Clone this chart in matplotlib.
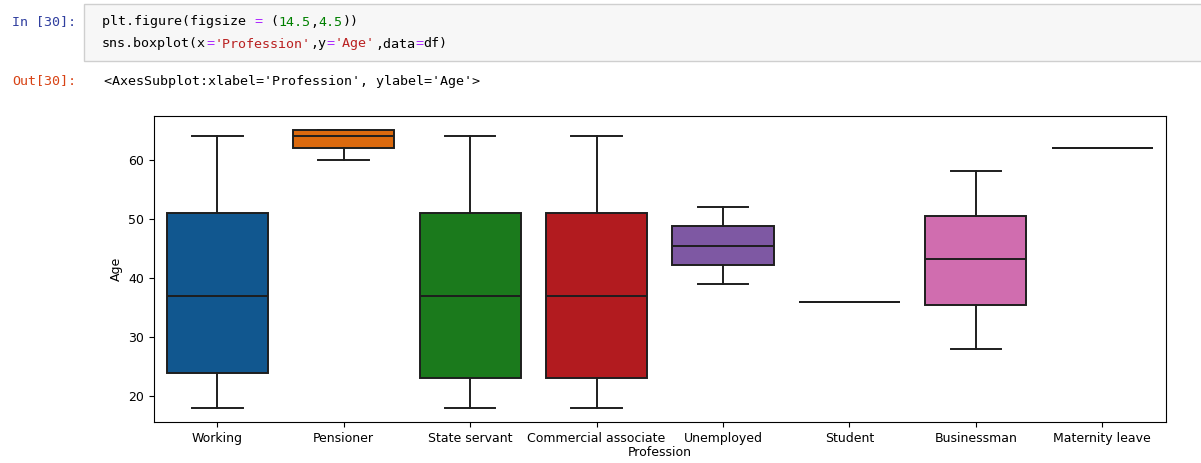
import numpy as np
import matplotlib.pyplot as plt
from matplotlib.patches import Rectangle

# box statistics
professions = ['Working', 'Pensioner', 'State servant', 'Commercial associate',
               'Unemployed', 'Student', 'Businessman', 'Maternity leave']
whislo = [18, 60, 18, 18, 39, 36, 28, 62]
q1 = [24, 62, 23, 23, 42.2, 36, 35.5, 62]
med = [37, 64, 37, 37, 45.4, 36, 43.2, 62]
q3 = [51, 65, 51, 51, 48.8, 36, 50.5, 62]
whishi = [64, 65, 64, 64, 52, 36, 58, 62]
box_colors = ['#11578f', '#dc6a0e', '#1b7a1c', '#b21b1f',
              '#7e58a3', '#8c613c', '#d06daf', '#797979']

# notebook cell text
in_prompt = 'In [30]:'
out_prompt = 'Out[30]:'
code_line1 = [('plt.figure(figsize ', 'k'), ('=', '#aa22ff'), (' (', 'k'),
              ('14.5', '#008000'), (',', 'k'), ('4.5', '#008000'), ('))', 'k')]
code_line2 = [('sns.boxplot(x', 'k'), ('=', '#aa22ff'), ("'Profession'", '#ba2121'),
              (',y', 'k'), ('=', '#aa22ff'), ("'Age'", '#ba2121'), (',data', 'k'),
              ('=', '#aa22ff'), ('df)', 'k')]
out_text = "<AxesSubplot:xlabel='Profession', ylabel='Age'>"

W, H = 1201, 463
fig = plt.figure(figsize=(W / 100, H / 100), dpi=100)

MONO = 'DejaVu Sans Mono'
CODE_SIZE = 9.6
CHAR_W = 0.602 * CODE_SIZE * 100 / 72  # px per char


def put_code(x0, y0, parts):
    x = x0
    for txt, col in parts:
        fig.text(x / W, 1 - y0 / H, txt, color=col, family=MONO,
                 fontsize=CODE_SIZE, va='center', ha='left')
        x += len(txt) * CHAR_W


# input cell
fig.patches.append(Rectangle((84 / W, 1 - 61 / H), (W - 83) / W, 57 / H,
                             transform=fig.transFigure, facecolor='#f7f7f7',
                             edgecolor='#cfcfcf', linewidth=1))
put_code(12, 22, [(in_prompt, '#303f9f')])
put_code(102, 22, code_line1)
put_code(102, 44, code_line2)
put_code(12, 81, [(out_prompt, '#d84315')])
put_code(104, 81, [(out_text, 'k')])

# the plot
ax = fig.add_axes([154 / W, 1 - 422 / H, (1165.5 - 154) / W, (422 - 116) / H])

stats = []
for i in range(len(professions)):
    stats.append({'med': med[i], 'q1': q1[i], 'q3': q3[i],
                  'whislo': whislo[i], 'whishi': whishi[i], 'fliers': []})

line_col = '#1e1e1e'
lw = 1.4
bp = ax.bxp(stats, positions=np.arange(len(professions)), widths=0.8,
            patch_artist=True, showfliers=False,
            boxprops=dict(edgecolor=line_col, linewidth=lw),
            whiskerprops=dict(color=line_col, linewidth=lw),
            capprops=dict(color=line_col, linewidth=lw),
            medianprops=dict(color=line_col, linewidth=lw))
for patch, c in zip(bp['boxes'], box_colors):
    patch.set_facecolor(c)

ax.set_xlim(-0.5, len(professions) - 0.5)
ax.set_ylim(15.65, 67.35)
ax.set_yticks([20, 30, 40, 50, 60])
ax.set_xticks(np.arange(len(professions)))
ax.set_xticklabels(professions)
ax.tick_params(labelsize=9)
ax.set_xlabel('Profession', fontsize=9, labelpad=1)
ax.set_ylabel('Age', fontsize=9)

plt.savefig('out.png', dpi=100)
